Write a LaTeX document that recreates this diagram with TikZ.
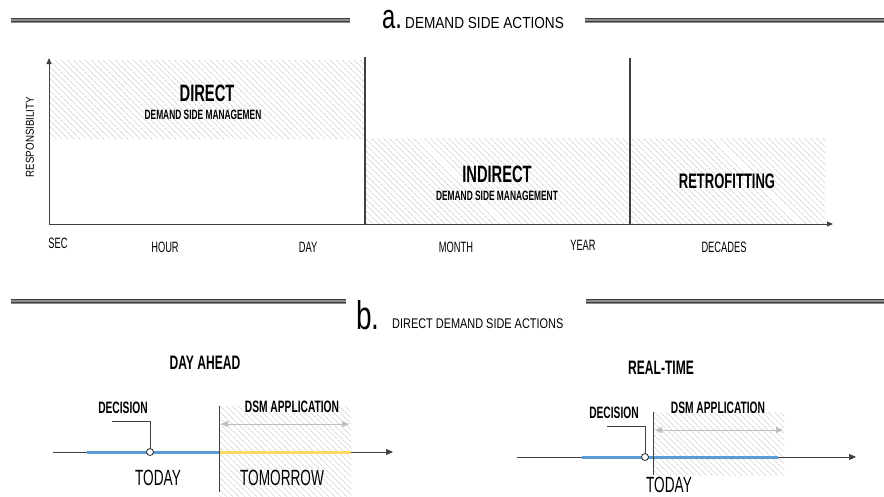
\documentclass[tikz,border=0pt]{standalone}
\usepackage{fontspec}
\setmainfont{Liberation Sans}
\newfontfamily\hdfont{Liberation Sans}[FakeStretch=0.85]
\newfontfamily\hbfont{Liberation Sans}[FakeStretch=0.78]
\newfontfamily\lbfont{Liberation Sans}[FakeStretch=0.62]
\newfontfamily\bdfont{Liberation Sans}[FakeStretch=0.62]
\newfontfamily\bigfont{Liberation Sans}[FakeStretch=0.7]
\usetikzlibrary{arrows.meta,patterns.meta}
\definecolor{axisc}{RGB}{64,64,64}
\definecolor{bluel}{RGB}{91,155,213}
\definecolor{yell}{RGB}{255,217,102}
\tikzset{
  hatch/.style={draw=none,pattern={Lines[angle=-45,distance=4pt,line width=0.5pt]},pattern color=black!24},
  hdline/.style={line width=5pt,draw=black!45},
  hdthin/.style={line width=0.9pt,draw=black!75},
  hdtxt/.style={font=\hdfont\fontsize{16}{16}\selectfont,inner sep=0pt,anchor=base west},
  bigtxt/.style={font=\bigfont\fontsize{34}{34}\selectfont,inner sep=0pt,anchor=base west},
  axtxt/.style={font=\lbfont\fontsize{15}{15}\selectfont,inner sep=0pt},
  bigbold/.style={font=\bdfont\bfseries\fontsize{23.7}{24}\selectfont,inner sep=0pt},
  subbold/.style={font=\bdfont\bfseries\fontsize{13.5}{14}\selectfont,inner sep=0pt},
  ttlbold/.style={font=\bdfont\bfseries\fontsize{19.5}{20}\selectfont,inner sep=0pt},
  lblbold/.style={font=\bdfont\bfseries\fontsize{16.5}{17}\selectfont,inner sep=0pt},
  daytxt/.style={font=\lbfont\fontsize{22}{22}\selectfont,inner sep=0pt},
  axis/.style={draw=axisc,line width=0.9pt,-{Triangle[length=6pt,width=5pt]}},
  divider/.style={draw=axisc,line width=1.1pt},
  tline/.style={draw=axisc,line width=0.7pt,-{Triangle[length=7pt,width=6pt]}},
  dblarrow/.style={draw=black!25,line width=0.8pt,{Triangle[length=7pt,width=6pt]}-{Triangle[length=7pt,width=6pt]}},
  leader/.style={draw=axisc,line width=0.8pt},
  decpt/.style={circle,draw=black!85,fill=white,line width=0.8pt,inner sep=0pt,minimum size=7pt}
}
\begin{document}
\begin{tikzpicture}[x=1pt,y=-1pt]
\useasboundingbox (0,0) rectangle (884,496);
\fill[white] (0,0) rectangle (884,496);

% ---------- header a ----------
\coordinate (ha1) at (11,20); \coordinate (ha2) at (350,20);
\coordinate (ha3) at (585,20); \coordinate (ha4) at (884,20);
\draw[hdline] (ha1) -- (ha2); \draw[hdline] (ha3) -- (ha4);
\draw[hdthin] ([yshift=-1.3pt]ha1) -- ([yshift=-1.3pt]ha2);
\draw[hdthin] ([yshift=1.3pt]ha1) -- ([yshift=1.3pt]ha2);
\draw[hdthin] ([yshift=-1.3pt]ha3) -- ([yshift=-1.3pt]ha4);
\draw[hdthin] ([yshift=1.3pt]ha3) -- ([yshift=1.3pt]ha4);
\node[bigtxt] (la) at (382,28) {a.};
\node[hdtxt] (ta) at (405,28) {DEMAND SIDE ACTIONS};

% ---------- chart a ----------
\fill[hatch] (49,60) rectangle (365,138);
\fill[hatch] (365,138) rectangle (630,224);
\fill[hatch] (630,138) rectangle (825,224);
\coordinate (org) at (49,224);
\coordinate (ytop) at (49,58);
\coordinate (xend) at (833,224);
\draw[axis] (org) -- (ytop);
\draw[axis] (org) -- (xend);
\coordinate (d1t) at (365,57); \coordinate (d1b) at (365,224);
\coordinate (d2t) at (630,58); \coordinate (d2b) at (630,224);
\draw[divider] (d1t) -- (d1b);
\draw[divider] (d2t) -- (d2b);

\node[bigbold] (direct) at (207,93) {DIRECT};
\node[subbold] (dsm1) at (203,115) {DEMAND SIDE MANAGEMEN};
\node[bigbold] (indirect) at (497,174) {INDIRECT};
\node[subbold] (dsm2) at (497,196) {DEMAND SIDE MANAGEMENT};
\node[bigbold,font=\bdfont\bfseries\fontsize{21}{21}\selectfont] (retro) at (727,181) {RETROFITTING};

\node[axtxt] (sec) at (58,243) {SEC};
\node[axtxt] (hour) at (165,247) {HOUR};
\node[axtxt] (day) at (308,247) {DAY};
\node[axtxt] (month) at (456,247) {MONTH};
\node[axtxt] (year) at (583,245) {YEAR};
\node[axtxt] (decades) at (724,247) {DECADES};
\node[axtxt,font=\hdfont\fontsize{11.5}{12}\selectfont,rotate=90] (resp) at (30,137) {RESPONSIBILITY};

% ---------- header b ----------
\coordinate (hb1) at (11,301); \coordinate (hb2) at (346,301);
\coordinate (hb3) at (586,301); \coordinate (hb4) at (884,301);
\draw[hdline] (hb1) -- (hb2); \draw[hdline] (hb3) -- (hb4);
\draw[hdthin] ([yshift=-1.3pt]hb1) -- ([yshift=-1.3pt]hb2);
\draw[hdthin] ([yshift=1.3pt]hb1) -- ([yshift=1.3pt]hb2);
\draw[hdthin] ([yshift=-1.3pt]hb3) -- ([yshift=-1.3pt]hb4);
\draw[hdthin] ([yshift=1.3pt]hb3) -- ([yshift=1.3pt]hb4);
\node[bigtxt,font=\bigfont\fontsize{40}{40}\selectfont] (lb) at (356,329) {b.};
\node[hdtxt,font=\hbfont\fontsize{14}{14}\selectfont] (tb) at (392,328) {DIRECT DEMAND SIDE ACTIONS};

% ---------- day ahead ----------
\node[ttlbold] (dayahead) at (205,363) {DAY AHEAD};
\fill[hatch] (219,406) rectangle (351,496);
\coordinate (t1s) at (53,452); \coordinate (t1e) at (393,452);
\coordinate (b1s) at (87,452); \coordinate (b1m) at (219,452); \coordinate (b1e) at (351,452);
\draw[tline] (t1s) -- (t1e);
\draw[draw=bluel,line width=3pt] (b1s) -- (b1m);
\draw[draw=yell,line width=3pt] (b1m) -- (b1e);
\coordinate (v1t) at (219,406); \coordinate (v1b) at (219,492);
\draw[divider,line width=0.9pt] (v1t) -- (v1b);
\coordinate (a1s) at (221,424); \coordinate (a1e) at (349,424);
\draw[dblarrow] (a1s) -- (a1e);
\node[lblbold] (dsmapp1) at (292,407) {DSM APPLICATION};
\node[lblbold] (dec1) at (123,408) {DECISION};
\node[decpt] (c1) at (150,452) {};
\coordinate (l1) at (112,421);
\draw[leader] (l1) -| (c1.north);
\node[daytxt] (today1) at (158,478) {TODAY};
\node[daytxt] (tomorrow) at (282,478) {TOMORROW};

% ---------- real time ----------
\node[ttlbold] (realtime) at (661,368) {REAL-TIME};
\fill[hatch] (653,412) rectangle (784,475);
\coordinate (t2s) at (517,457); \coordinate (t2e) at (856,457);
\coordinate (b2s) at (582,457); \coordinate (b2e) at (778,457);
\draw[tline] (t2s) -- (t2e);
\draw[draw=bluel,line width=3pt] (b2s) -- (b2e);
\coordinate (v2t) at (653,412); \coordinate (v2b) at (653,475);
\draw[divider,line width=0.9pt] (v2t) -- (v2b);
\coordinate (a2s) at (655,430); \coordinate (a2e) at (783,430);
\draw[dblarrow] (a2s) -- (a2e);
\node[lblbold] (dsmapp2) at (718,408) {DSM APPLICATION};
\node[lblbold] (dec2) at (614,413) {DECISION};
\node[decpt] (c2) at (645,457) {};
\coordinate (l2) at (607,426);
\draw[leader] (l2) -| (c2.north);
\node[daytxt] (today2) at (669,485) {TODAY};
\end{tikzpicture}
\end{document}
